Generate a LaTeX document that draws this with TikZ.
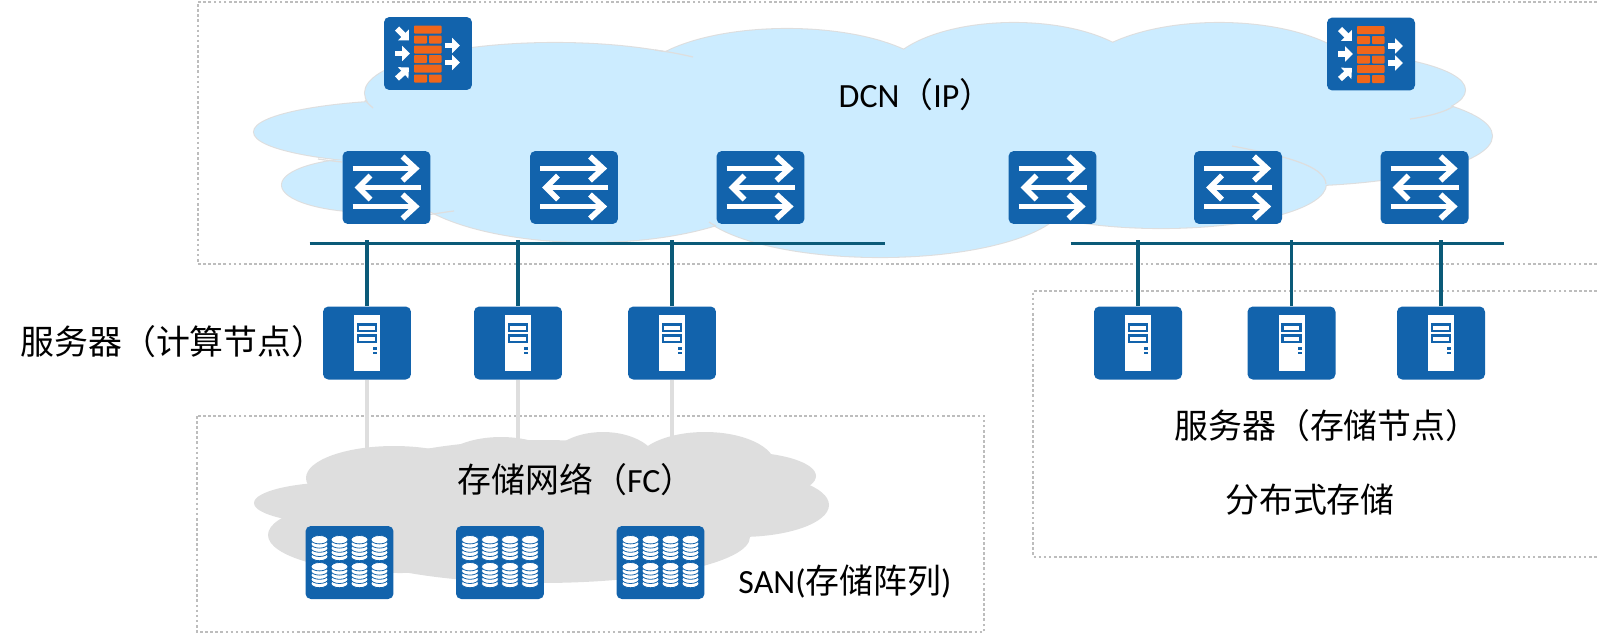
\documentclass[tikz,border=0pt]{standalone}
\usepackage{fontspec}
\setmainfont{Carlito}
\newfontfamily\cjk{Noto Sans CJK SC}
\usetikzlibrary{arrows.meta}

\definecolor{iconblue}{HTML}{1263AC}
\definecolor{brick}{HTML}{F0661A}
\definecolor{busteal}{HTML}{0B5A78}
\definecolor{dcnblue}{HTML}{CCECFF}
\definecolor{fcgrey}{HTML}{DEDEDE}
\definecolor{zonegrey}{HTML}{BDBDBD}

% glyphs drawn on top of the blue icon boxes
\newcommand{\switchglyph}[1]{
  \begin{scope}[shift={(#1.center)}, line width=3.2pt, miter limit=10]
    \draw[white] (-34,-19) -- (28,-19);
    \draw[white] (16,-31) -- (29,-19) -- (16,-7);
    \draw[white] (34,0) -- (-27,0);
    \draw[white] (-16,-12) -- (-28,0) -- (-16,12);
    \draw[white] (-34,19) -- (28,19);
    \draw[white] (16,7) -- (29,19) -- (16,31);
  \end{scope}
}
\newcommand{\serverglyph}[1]{
  \begin{scope}[shift={(#1.center)}]
    \fill[white] (-13,-28) rectangle (13,28);
    \draw[iconblue, line width=1.4pt] (-9,-18.5) rectangle (9,-12);
    \draw[iconblue, line width=1.4pt] (-9,-7.5) rectangle (9,-1);
    \fill[iconblue] (6,4) rectangle (10,6.5);
    \fill[iconblue] (6,8.5) rectangle (10,11);
  \end{scope}
}
\newcommand{\wallglyph}[1]{
  \begin{scope}[shift={(#1.center)}]
    \foreach \ya in {-28,-8,11}
      \fill[brick, rounded corners=0.5pt] (-14,\ya) rectangle (13.5,\ya+8);
    \foreach \yb in {-18,1.5,21} {
      \fill[brick, rounded corners=0.5pt] (-14,\yb) rectangle (-1,\yb+8);
      \fill[brick, rounded corners=0.5pt] (1,\yb) rectangle (13.5,\yb+8);
    }
    \draw[flowarrow] (-33,0) -- (-18,0);
    \draw[flowarrow] (-31,-25) -- (-19,-13);
    \draw[flowarrow] (-31,25) -- (-19,14);
    \draw[flowarrow] (17,-8) -- (32,-8);
    \draw[flowarrow] (17,9) -- (32,9);
  \end{scope}
}
\newcommand{\diskglyph}[1]{
  \begin{scope}[shift={(#1.center)}]
    \foreach \dx in {-30,-10,10,30}
      \foreach \dy in {-6,21}
        \foreach \layer in {0,4.2,8.4,12.6,16.8}
          \draw[iconblue, fill=white, line width=0.45pt] (\dx,\dy-\layer) ellipse [x radius=8.5, y radius=4.2];
  \end{scope}
}

\begin{document}
\begin{tikzpicture}[
  x=0.02cm, y=-0.02cm,
  icon/.style={fill=iconblue, rounded corners=3pt, inner sep=0pt, minimum width=1.76cm, minimum height=1.46cm},
  zone/.style={draw=zonegrey, line width=1.6pt, dash pattern=on 1.5pt off 1.4pt},
  busline/.style={draw=busteal, line width=1.9pt},
  drop/.style={draw=busteal, line width=1.8pt, shorten >=-2pt},
  sanlink/.style={draw=fcgrey, line width=1.9pt},
  tail/.style={draw=fcgrey, line width=0.7pt},
  flowarrow/.style={white, line width=3.3pt, -{Triangle[length=4.5pt,width=8.5pt]}},
  label/.style={inner sep=0pt, font=\fontsize{19.3}{23}\selectfont}
]
\useasboundingbox (0,0) rectangle (1597,633);

% dotted zones
\draw[zone] (1597,2) -- (198,2) -- (198,264) -- (1597,264);
\draw[zone] (1597,291) -- (1033,291) -- (1033,557) -- (1597,557);
\draw[zone] (197,416) rectangle (984,632);

% DCN cloud
\foreach \cx/\cy/\rx/\ry in {430/132/176/32, 372/185/90/27, 555/93/190/50, 787/85/150/56, 1014/80/130/57,
    1219/85/145/62, 1300/90/165/39, 1280/136/212/50, 1161/184/165/44, 880/200/185/57, 590/175/190/67}
  \draw[draw=fcgrey, line width=1.2pt] (\cx,\cy) ellipse [x radius=\rx, y radius=\ry];
\foreach \cx/\cy/\rx/\ry in {430/132/176/32, 372/185/90/27, 555/93/190/50, 787/85/150/56, 1014/80/130/57,
    1219/85/145/62, 1300/90/165/39, 1280/136/212/50, 1161/184/165/44, 880/200/185/57, 590/175/190/67}
  \fill[dcnblue] (\cx,\cy) ellipse [x radius=\rx, y radius=\ry];
\fill[dcnblue] (400,110) rectangle (1300,190);

% short arcs where the puffs overlap
\draw[tail] (1232,146) .. controls (1280,155) and (1325,165) .. (1326,184);
\draw[tail] (1410,119) .. controls (1430,116) and (1445,112) .. (1454,106);
\draw[tail] (709,222) .. controls (711,223) and (713,225) .. (716,226);
\draw[tail] (655,50) .. controls (670,52) and (680,54) .. (693,57);
\draw[tail] (365,100) .. controls (367,103) and (370,105) .. (373,108);
\draw[tail] (425,215) .. controls (435,214) and (445,212) .. (454,211);
\draw[tail] (318,159) .. controls (325,160) and (332,161) .. (342,162);

% servers
\node[icon] (srv1) at (367,343) {};
\node[icon] (srv2) at (518,343) {};
\node[icon] (srv3) at (672,343) {};
\node[icon] (srv4) at (1138,343) {};
\node[icon] (srv5) at (1291.5,343) {};
\node[icon] (srv6) at (1441,343) {};

% links down to the FC cloud, the cloud covers their ends
\coordinate (fc1) at (367,470);
\coordinate (fc2) at (518,470);
\coordinate (fc3) at (672,470);
\draw[sanlink] (srv1.south) -- (fc1);
\draw[sanlink] (srv2.south) -- (fc2);
\draw[sanlink] (srv3.south) -- (fc3);

% FC cloud
\foreach \cx/\cy/\rx/\ry in {394/478/88/32, 501/470/65/33, 603/465/55/33, 705/465/70/33, 740/476/76/24,
    740/505/89/32, 342/503/88/21, 400/535/132/38, 540/537/210/46, 540/490/200/50}
  \fill[fcgrey] (\cx,\cy) ellipse [x radius=\rx, y radius=\ry];

% switches and firewalls
\node[icon] (sw1) at (386.5,187.5) {};
\node[icon] (sw2) at (574,187.5) {};
\node[icon] (sw3) at (760.5,187.5) {};
\node[icon] (sw4) at (1052.5,187.5) {};
\node[icon] (sw5) at (1238,187.5) {};
\node[icon] (sw6) at (1424.5,187.5) {};
\node[icon] (fw1) at (428,53.5) {};
\node[icon] (fw2) at (1371,54) {};

% storage arrays
\node[icon] (arr1) at (349.5,562.5) {};
\node[icon] (arr2) at (500,562.5) {};
\node[icon] (arr3) at (660.5,562.5) {};

\foreach \n in {sw1,sw2,sw3,sw4,sw5,sw6} {\switchglyph{\n}}
\foreach \n in {srv1,srv2,srv3,srv4,srv5,srv6} {\serverglyph{\n}}
\foreach \n in {fw1,fw2} {\wallglyph{\n}}
\foreach \n in {arr1,arr2,arr3} {\diskglyph{\n}}

% bus bars
\coordinate (busA) at (309.5,243.5);
\coordinate (busB) at (885,243.5);
\coordinate (busC) at (1070.5,243.5);
\coordinate (busD) at (1504,243.5);
\draw[busline] (busA) -- (busB);
\draw[busline] (busC) -- (busD);
\draw[drop] (srv1.north) -- (srv1.north |- busA);
\draw[drop] (srv2.north) -- (srv2.north |- busA);
\draw[drop] (srv3.north) -- (srv3.north |- busA);
\draw[drop] (srv4.north) -- (srv4.north |- busC);
\draw[drop] (srv5.north) -- (srv5.north |- busC);
\draw[drop] (srv6.north) -- (srv6.north |- busC);

% labels
\node[label] (dcn) at (916,95) {DCN{\cjk （}IP{\cjk ）}};
\node[label] (computelbl) at (173,342) {\cjk 服务器（计算节点）};
\node[label] (storelbl) at (1327,426) {\cjk 服务器（存储节点）};
\node[label] (distlbl) at (1310,500) {\cjk 分布式存储};
\node[label] (fclbl) at (576,480) {{\cjk 存储网络（}FC{\cjk ）}};
\node[label] (sanlbl) at (845,582) {SAN({\cjk 存储阵列})};
\end{tikzpicture}
\end{document}
